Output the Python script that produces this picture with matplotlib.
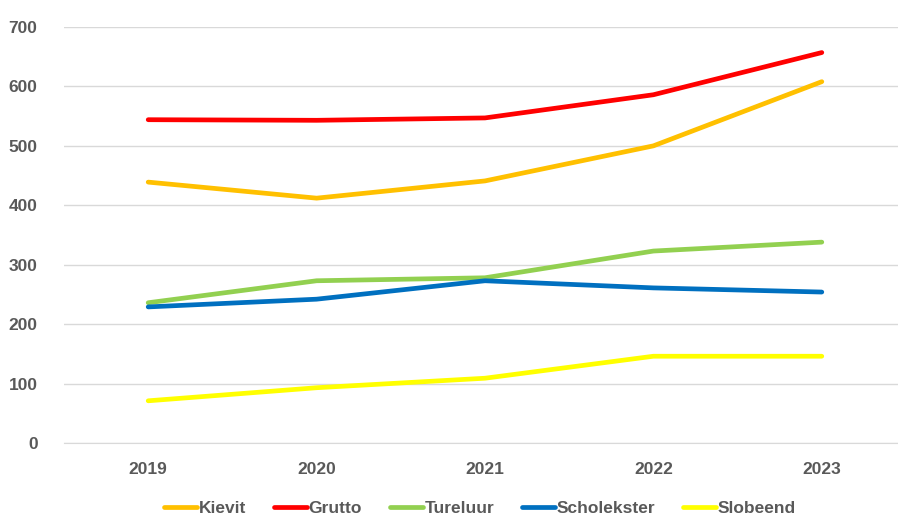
import matplotlib.pyplot as plt

years = ["2019", "2020", "2021", "2022", "2023"]
kievit = [439, 412, 441, 500, 608]
grutto = [544, 543, 547, 586, 657]
tureluur = [236, 273, 278, 323, 338]
scholekster = [229, 242, 273, 261, 254]
slobeend = [71, 93, 109, 146, 146]

series = [
    ("Kievit", kievit, "#FFC000"),
    ("Grutto", grutto, "#FF0000"),
    ("Tureluur", tureluur, "#92D050"),
    ("Scholekster", scholekster, "#0070C0"),
    ("Slobeend", slobeend, "#FFFF00"),
]

plt.rcParams['font.family'] = ['Liberation Sans', 'DejaVu Sans']

fig = plt.figure(figsize=(8.98, 5.18), dpi=100)
ax = fig.add_axes([64 / 898, 75 / 518, 842 / 898, 416 / 518])

x = range(len(years))
for name, vals, color in series:
    ax.plot(x, vals, color=color, linewidth=3.4, solid_capstyle="round",
            solid_joinstyle="round", label=name)

ax.set_xlim(-0.5, len(years) - 0.5)
ax.set_ylim(0, 700)
ax.set_yticks(range(0, 701, 100))
ax.set_xticks(list(x))
ax.set_xticklabels(years)
ax.grid(axis="y", color="#D9D9D9", linewidth=1)
ax.set_axisbelow(True)
for s in ["top", "right", "left"]:
    ax.spines[s].set_visible(False)
ax.spines["bottom"].set_color("#D9D9D9")
ax.tick_params(axis="both", length=0, labelsize=12.5, labelcolor="#595959", pad=14)
ax.tick_params(axis="y", pad=19)
for lbl in ax.get_xticklabels() + ax.get_yticklabels():
    lbl.set_fontweight("bold")

leg = fig.legend(loc="center", bbox_to_anchor=(480 / 898, 1 - 508 / 518), ncol=5,
                 frameon=False, handlelength=1.9, handletextpad=0.1, columnspacing=1.6,
                 prop={"size": 12.5, "weight": "bold"})
for t in leg.get_texts():
    t.set_color("#595959")

fig.savefig("out.png", dpi=100)
